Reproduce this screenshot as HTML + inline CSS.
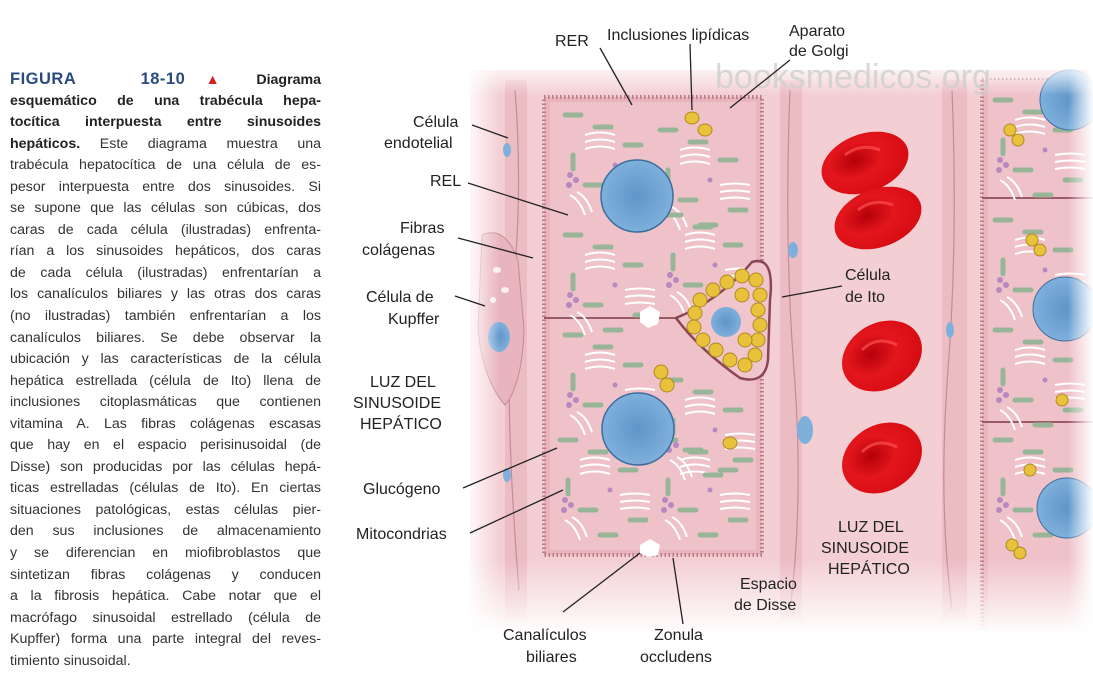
<!DOCTYPE html>
<html><head><meta charset="utf-8">
<style>
body{margin:0;width:1093px;height:678px;background:#fff;position:relative;overflow:hidden;font-family:"Liberation Sans",sans-serif}
#txt{position:absolute;left:10px;top:69px;width:311px;font-size:14.2px;color:#333;}
#txt div{height:21.55px;line-height:21.55px;text-align:justify;text-align-last:justify;white-space:nowrap;}
#txt div.l{text-align-last:left}
b{color:#222}
.fig{color:#2b4a7e;font-weight:bold;font-size:16.5px;letter-spacing:0.5px}
.tri{color:#d42020}
svg{position:absolute;left:0;top:0}
.lb{font-family:"Liberation Sans",sans-serif;font-size:16px;fill:#222}
</style></head><body>
<div id="txt">
<div><span class="fig">FIGURA&nbsp;&nbsp; 18-10</span> <span class="tri">▲</span> <b>Diagrama</b></div>
<div><b>esquemático de una trabécula hepa-</b></div>
<div><b>tocítica interpuesta entre sinusoides</b></div>
<div><b>hepáticos.</b> Este diagrama muestra una</div>
<div>trabécula hepatocítica de una célula de es-</div>
<div>pesor interpuesta entre dos sinusoides. Si</div>
<div>se supone que las células son cúbicas, dos</div>
<div>caras de cada célula (ilustradas) enfrenta-</div>
<div>rían a los sinusoides hepáticos, dos caras</div>
<div>de cada célula (ilustradas) enfrentarían a</div>
<div>los canalículos biliares y las otras dos caras</div>
<div>(no ilustradas) también enfrentarían a los</div>
<div>canalículos biliares. Se debe observar la</div>
<div>ubicación y las características de la célula</div>
<div>hepática estrellada (célula de Ito) llena de</div>
<div>inclusiones citoplasmáticas que contienen</div>
<div>vitamina A. Las fibras colágenas escasas</div>
<div>que hay en el espacio perisinusoidal (de</div>
<div>Disse) son producidas por las células hepá-</div>
<div>ticas estrelladas (células de Ito). En ciertas</div>
<div>situaciones patológicas, estas células pier-</div>
<div>den sus inclusiones de almacenamiento</div>
<div>y se diferencian en miofibroblastos que</div>
<div>sintetizan fibras colágenas y conducen</div>
<div>a la fibrosis hepática. Cabe notar que el</div>
<div>macrófago sinusoidal estrellado (célula de</div>
<div>Kupffer) forma una parte integral del reves-</div>
<div class="l">timiento sinusoidal.</div>
</div>
<svg width="1093" height="678" viewBox="0 0 1093 678">
<defs>
<linearGradient id="fadeL" x1="0" x2="1"><stop offset="0" stop-color="#fff"/><stop offset="1" stop-color="#fff" stop-opacity="0"/></linearGradient>
<linearGradient id="fadeB" x1="0" x2="0" y1="0" y2="1"><stop offset="0" stop-color="#fff" stop-opacity="0"/><stop offset="1" stop-color="#fff"/></linearGradient>
<linearGradient id="fadeT" x1="0" x2="0" y1="0" y2="1"><stop offset="0" stop-color="#fff"/><stop offset="1" stop-color="#fff" stop-opacity="0"/></linearGradient>
<linearGradient id="fadeR" x1="0" x2="1"><stop offset="0" stop-color="#fff" stop-opacity="0"/><stop offset="1" stop-color="#fff"/></linearGradient>
<radialGradient id="rbc" cx="0.4" cy="0.4" r="0.6"><stop offset="0" stop-color="#b5000a"/><stop offset="0.5" stop-color="#e3161c"/><stop offset="1" stop-color="#d80d14"/></radialGradient>
<radialGradient id="nuc" cx="0.5" cy="0.5" r="0.5"><stop offset="0" stop-color="#5f95c9"/><stop offset="1" stop-color="#7fb0dc"/></radialGradient>
<g id="org">
<g fill="none" stroke="#98b598" stroke-width="5" stroke-linecap="round">
<path d="M0 0h16M30 12h16M8 40v14M60 30h16M20 70h16M70 80h16M40 95h16"/>
</g>
<g fill="none" stroke="#fff" stroke-width="2">
<path d="M20 20q15 -5 30 0M20 27q15 -5 30 0M20 34q15 -5 30 0M5 80q10 5 15 20M12 77q10 5 15 20M60 55q15 -3 30 0M60 62q15 -3 30 0M60 69q15 -3 30 0"/>
</g>
<g fill="#b988c0"><circle cx="5" cy="60" r="3"/><circle cx="11" cy="65" r="3"/><circle cx="4" cy="70" r="3"/><circle cx="50" cy="50" r="2.5"/></g>
</g>
</defs>
<rect x="470" y="70" width="620" height="560" fill="#f3cfd4"/>
<rect x="505" y="80" width="22" height="540" fill="#ecbcc3"/>
<rect x="780" y="80" width="22" height="540" fill="#ecbcc3"/>
<rect x="942" y="80" width="25" height="540" fill="#ecbcc3"/>
<g stroke="#c68b96" stroke-width="1.2" fill="none">
<path d="M515 90q8 100 -2 200t6 300M790 90q-6 150 4 280t-4 240M952 90q6 150 -4 280t4 240"/>
</g>
<path d="M482 235 Q505 225 518 260 L524 330 Q522 385 505 405 Q483 380 478 330 Z" fill="#e8b4bd" stroke="#c48a94"/>
<g fill="#fff" opacity="0.8"><ellipse cx="497" cy="270" rx="4" ry="3"/><ellipse cx="505" cy="290" rx="4" ry="3"/><ellipse cx="493" cy="300" rx="3" ry="3"/></g>
<ellipse cx="499" cy="337" rx="11" ry="15" fill="url(#nuc)"/>
<ellipse cx="507" cy="150" rx="4" ry="7" fill="#7fb0dc"/>
<ellipse cx="507" cy="475" rx="4" ry="7" fill="#7fb0dc"/>
<ellipse cx="793" cy="250" rx="5" ry="8" fill="#7fb0dc"/>
<ellipse cx="805" cy="430" rx="8" ry="14" fill="#7fb0dc"/>
<ellipse cx="950" cy="330" rx="4" ry="8" fill="#7fb0dc"/>
<!-- main trabecula -->
<rect x="544" y="97" width="218" height="458" fill="#e9b4bc" stroke="#b97a86" stroke-width="4" stroke-dasharray="1.5 2.5"/>
<rect x="550" y="102" width="206" height="448" fill="#efc2c9"/>
<line x1="544" y1="318" x2="680" y2="318" stroke="#9a5a66" stroke-width="2"/>
<use href="#org" x="565" y="115"/><use href="#org" x="660" y="130"/><use href="#org" x="565" y="235"/><use href="#org" x="665" y="215"/>
<use href="#org" x="565" y="335"/><use href="#org" x="560" y="440"/><use href="#org" x="660" y="440"/><use href="#org" x="665" y="380"/>
<g fill="#e8c23a" stroke="#b08a20" stroke-width="1"><ellipse cx="692" cy="118" rx="7" ry="6"/><ellipse cx="705" cy="130" rx="7" ry="6"/><ellipse cx="661" cy="372" rx="7" ry="7"/><ellipse cx="667" cy="385" rx="7" ry="7"/><ellipse cx="730" cy="443" rx="7" ry="6"/></g>
<circle cx="637" cy="196" r="36" fill="url(#nuc)" stroke="#3d6e9e" stroke-width="1.5"/>
<circle cx="638" cy="429" r="36" fill="url(#nuc)" stroke="#3d6e9e" stroke-width="1.5"/>
<path d="M640 312l10 -6 10 6 -2 12 -10 4 -8 -6z" fill="#fff"/>
<path d="M640 545l10 -6 10 6 -2 10 -10 2 -8 -4z" fill="#fff"/>
<!-- Ito cell -->
<path d="M676 318 Q720 300 752 262 Q775 255 770 300 L768 360 Q765 385 740 378 Q700 350 676 318Z" fill="#f0c5cb" stroke="#8a4654" stroke-width="2.5"/>
<g fill="#e8c23a" stroke="#b08a20" stroke-width="1">
<circle cx="700" cy="300" r="7"/><circle cx="713" cy="290" r="7"/><circle cx="727" cy="282" r="7"/><circle cx="742" cy="276" r="7"/><circle cx="756" cy="280" r="7"/><circle cx="760" cy="295" r="7"/><circle cx="758" cy="310" r="7"/><circle cx="760" cy="325" r="7"/><circle cx="758" cy="340" r="7"/><circle cx="755" cy="355" r="7"/><circle cx="745" cy="365" r="7"/><circle cx="730" cy="360" r="7"/><circle cx="716" cy="350" r="7"/><circle cx="703" cy="340" r="7"/><circle cx="694" cy="327" r="7"/><circle cx="695" cy="313" r="7"/><circle cx="742" cy="295" r="7"/><circle cx="745" cy="340" r="7"/>
</g>
<circle cx="726" cy="322" r="15" fill="url(#nuc)"/>
<!-- right cells -->
<rect x="982" y="80" width="111" height="550" fill="#e9b4bc" stroke="#b97a86" stroke-width="4" stroke-dasharray="1.5 2.5"/>
<rect x="988" y="80" width="105" height="550" fill="#efc2c9"/>
<line x1="982" y1="198" x2="1093" y2="198" stroke="#9a5a66" stroke-width="2"/>
<line x1="982" y1="422" x2="1093" y2="422" stroke="#9a5a66" stroke-width="2"/>
<use href="#org" x="995" y="100"/><use href="#org" x="995" y="220"/><use href="#org" x="995" y="330"/><use href="#org" x="995" y="440"/>
<circle cx="1070" cy="100" r="30" fill="url(#nuc)" stroke="#3d6e9e"/>
<circle cx="1065" cy="309" r="32" fill="url(#nuc)" stroke="#3d6e9e"/>
<circle cx="1067" cy="508" r="30" fill="url(#nuc)" stroke="#3d6e9e"/>
<g fill="#e8c23a" stroke="#b08a20"><circle cx="1010" cy="130" r="6"/><circle cx="1018" cy="140" r="6"/><circle cx="1032" cy="240" r="6"/><circle cx="1040" cy="250" r="6"/><circle cx="1062" cy="400" r="6"/><circle cx="1030" cy="470" r="6"/><circle cx="1012" cy="545" r="6"/><circle cx="1020" cy="553" r="6"/></g>
<!-- RBCs -->
<g fill="url(#rbc)">
<ellipse cx="865" cy="163" rx="45" ry="29" transform="rotate(-20 865 163)"/>
<ellipse cx="878" cy="218" rx="45" ry="29" transform="rotate(-20 878 218)"/>
<ellipse cx="882" cy="356" rx="42" ry="33" transform="rotate(-30 882 356)"/>
<ellipse cx="882" cy="458" rx="42" ry="33" transform="rotate(-30 882 458)"/>
</g>
<g fill="none" stroke="#ff5a5a" stroke-width="3" opacity="0.6">
<path d="M845 155q15 -12 35 -5M858 210q15 -12 35 -5M862 350q15 -15 35 -5M862 452q15 -15 35 -5"/>
</g>
<rect x="465" y="60" width="35" height="580" fill="url(#fadeL)"/>
<rect x="465" y="60" width="630" height="35" fill="url(#fadeT)"/>
<rect x="465" y="560" width="630" height="75" fill="url(#fadeB)"/>
<rect x="1068" y="60" width="26" height="580" fill="url(#fadeR)"/>
<text x="715" y="88" font-family="Liberation Sans" font-size="34" fill="#cfcfcf" opacity="0.8">booksmedicos.org</text>
<g stroke="#222" stroke-width="1.3" fill="none">
<line x1="600" y1="48" x2="632" y2="105"/>
<line x1="690" y1="44" x2="692" y2="110"/>
<line x1="790" y1="60" x2="730" y2="108"/>
<line x1="472" y1="125" x2="508" y2="138"/>
<line x1="468" y1="183" x2="568" y2="215"/>
<line x1="458" y1="238" x2="533" y2="258"/>
<line x1="455" y1="296" x2="485" y2="306"/>
<line x1="842" y1="286" x2="782" y2="297"/>
<line x1="463" y1="488" x2="557" y2="448"/>
<line x1="470" y1="533" x2="563" y2="490"/>
<line x1="563" y1="612" x2="640" y2="553"/>
<line x1="683" y1="624" x2="673" y2="558"/>
</g>
<g class="lb">
<text x="555" y="46">RER</text>
<text x="607" y="40">Inclusiones lipídicas</text>
<text x="789" y="36">Aparato</text>
<text x="789" y="56">de Golgi</text>
<text x="413" y="127">Célula</text>
<text x="384" y="148">endotelial</text>
<text x="430" y="186">REL</text>
<text x="400" y="233">Fibras</text>
<text x="362" y="255">colágenas</text>
<text x="366" y="302">Célula de</text>
<text x="388" y="324">Kupffer</text>
<text x="845" y="280">Célula</text>
<text x="845" y="302">de Ito</text>
<text x="370" y="387">LUZ DEL</text>
<text x="353" y="408">SINUSOIDE</text>
<text x="360" y="429">HEPÁTICO</text>
<text x="363" y="494">Glucógeno</text>
<text x="356" y="539">Mitocondrias</text>
<text x="838" y="532">LUZ DEL</text>
<text x="821" y="553">SINUSOIDE</text>
<text x="828" y="574">HEPÁTICO</text>
<text x="740" y="589">Espacio</text>
<text x="734" y="610">de Disse</text>
<text x="503" y="640">Canalículos</text>
<text x="526" y="662">biliares</text>
<text x="654" y="640">Zonula</text>
<text x="640" y="662">occludens</text>
</g>
</svg>
</body></html>
